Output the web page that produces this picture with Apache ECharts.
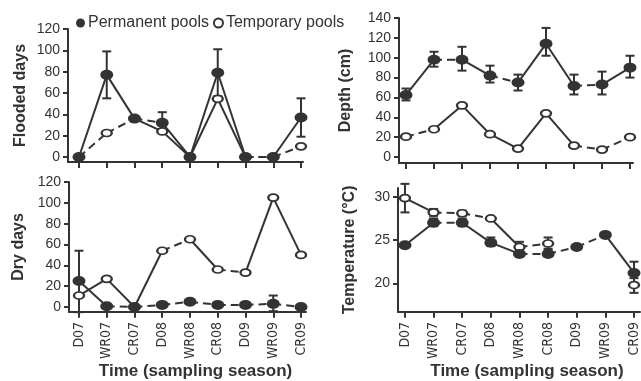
<!DOCTYPE html>
<html>
<head>
<meta charset="utf-8">
<script src="https://cdn.jsdelivr.net/npm/echarts@6/dist/echarts.min.js"></script>
<style>
  html, body { margin: 0; padding: 0; background: #fff; }
  #main { width: 641px; height: 381px; }
</style>
</head>
<body>
<div id="main"></div>
<script>
// sampling seasons (x axis)
var seasons = ["D07", "WR07", "CR07", "D08", "WR08", "CR08", "D09", "WR09", "CR09"];

// flooded days
var floodPerm = [0, 77, 36, 32, 0, 79, 0, 0, 37];
var floodPermLo = [null, 55, null, 23, null, 57, null, null, 19];
var floodPermHi = [null, 99, null, 42, null, 101, null, null, 55];
var floodTemp = [0, 22.5, 36, 24, 0, 54.5, 0, 0, 10];
var floodPermSolid = [1, 1, 0, 1, 1, 1, 0, 1];
var floodTempSolid = [0, 0, 1, 1, 1, 1, 0, 0];
var floodTicks = [0, 20, 40, 60, 80, 100, 120];

// depth (cm)
var depthPerm = [62.5, 98, 98, 82, 75, 114, 71.5, 73, 90];
var depthPermLo = [57, 91, 87, 75, 67, 102, 63, 63, 80];
var depthPermHi = [69, 106, 111, 92, 83, 130, 83, 86, 102];
var depthTemp = [20.5, 28, 52, 23, 8.5, 44, 11.5, 7.5, 20];
var depthPermSolid = [1, 0, 1, 0, 1, 1, 0, 1];
var depthTempSolid = [0, 1, 1, 1, 1, 1, 0, 0];
var depthTicks = [0, 20, 40, 60, 80, 100, 120, 140];

// dry days
var dryPerm = [25, 0.7, 0, 2, 5, 2, 2, 3, 0];
var dryPermLo = [-5, null, null, null, null, null, null, -4, null];
var dryPermHi = [54, null, null, null, null, null, null, 11, null];
var dryTemp = [11, 27, 0, 54, 65, 36, 33, 105, 50];
var dryPermSolid = [1, 0, 0, 0, 0, 0, 0, 0];
var dryTempSolid = [1, 1, 1, 0, 1, 0, 1, 1];
var dryTicks = [0, 20, 40, 60, 80, 100, 120];

// temperature (°C)
var tempPerm = [24.4, 27.0, 27.0, 24.7, 23.4, 23.4, 24.2, 25.6, 21.2];
var tempPermLo = [null, 26.6, 26.6, 24.3, 23.1, 23.1, null, null, 20.0];
var tempPermHi = [null, 27.5, 27.5, 25.3, 23.8, 23.8, null, null, 22.5];
var tempTemp = [29.85, 28.2, 28.1, 27.5, 24.2, 24.6, null, null, 19.8];
var tempTempLo = [28.2, 27.8, 27.8, null, 23.8, 24.0, null, null, 18.9];
var tempTempHi = [31.5, 28.6, 28.4, null, 24.8, 25.3, null, null, 20.6];
var tempPermSolid = [1, 0, 1, 1, 0, 0, 0, 1];
var tempTempSolid = [1, 0, 0, 1, 0, 0, 0, 0];
var tempTicks = [20, 25, 30];

var INK = "#333";
var FONT = "Liberation Sans, Arial, sans-serif";
var NARROW = "Liberation Sans Narrow, DejaVu Sans Condensed, Arial Narrow, sans-serif";
var seasonIdx = seasons.map(function (s, i) { return i; });

var myChart = echarts.init(document.getElementById("main"));

// grid boxes in px
var grids = [
  { left: 68, top: 29, width: 235, height: 133 },
  { left: 399, top: 18, width: 234, height: 145 },
  { left: 69, top: 182, width: 237, height: 132 },
  { left: 398, top: 188, width: 243, height: 126 }
];
var xRanges = [[-0.396, 8.072], [-0.25, 8.107], [-0.36, 8.18], [-0.243, 8.209]];
var yRanges = [[-4.7, 120], [-6, 140], [-4.7, 120], [16.7, 31.02]];
var yTicks = [floodTicks, depthTicks, dryTicks, tempTicks];
var yNames = ["Flooded days", "Depth (cm)", "Dry days", "Temperature (°C)"];
var yNameGaps = [39, 45, 42, 40];

var xAxes = [], yAxes = [];
for (var g = 0; g < 4; g++) {
  var bottom = g >= 2;
  xAxes.push({
    gridIndex: g,
    type: "value",
    min: xRanges[g][0],
    max: xRanges[g][1],
    splitLine: { show: false },
    axisLine: { show: true, onZero: false, lineStyle: { color: INK, width: 2 } },
    axisTick: { show: true, customValues: seasonIdx, length: 6, lineStyle: { color: INK, width: 2 } },
    axisLabel: {
      show: bottom,
      customValues: seasonIdx,
      formatter: function (v) { return seasons[Math.round(v)]; },
      rotate: 90,
      margin: 10,
      fontSize: 14,
      fontFamily: NARROW,
      color: INK
    },
    name: bottom ? "Time (sampling season)" : "",
    nameLocation: "middle",
    nameGap: 48,
    nameTextStyle: { fontSize: 17, fontWeight: "bold", fontFamily: FONT, color: INK, padding: [0, 0, 0, 16] }
  });
  yAxes.push({
    gridIndex: g,
    type: "value",
    min: yRanges[g][0],
    max: yRanges[g][1],
    splitLine: { show: false },
    axisLine: { show: true, onZero: false, lineStyle: { color: INK, width: 2 } },
    axisTick: { show: true, customValues: yTicks[g], length: 5, lineStyle: { color: INK, width: 2 } },
    axisLabel: { customValues: yTicks[g], margin: 8, fontSize: 14, fontFamily: FONT, color: INK },
    name: yNames[g],
    nameLocation: "middle",
    nameGap: yNameGaps[g],
    nameTextStyle: { fontSize: 16, fontWeight: "bold", fontFamily: FONT, color: INK }
  });
}

var series = [];

function addSegments(g, vals, solid) {
  for (var i = 0; i < vals.length - 1; i++) {
    if (vals[i] == null || vals[i + 1] == null) continue;
    series.push({
      type: "line",
      xAxisIndex: g,
      yAxisIndex: g,
      data: [[i, vals[i]], [i + 1, vals[i + 1]]],
      symbol: "none",
      silent: true,
      lineStyle: { color: INK, width: 2, type: solid[i] ? "solid" : [8, 5] },
      z: 2
    });
  }
}

function addErrors(g, lo, hi) {
  var data = [];
  for (var i = 0; i < lo.length; i++) {
    if (lo[i] != null && hi[i] != null) data.push([i, lo[i], hi[i]]);
  }
  series.push({
    type: "custom",
    xAxisIndex: g,
    yAxisIndex: g,
    silent: true,
    z: 3,
    encode: { x: 0, y: [1, 2] },
    data: data,
    renderItem: function (params, api) {
      var a = api.coord([api.value(0), api.value(1)]);
      var b = api.coord([api.value(0), api.value(2)]);
      var st = { stroke: INK, lineWidth: 2 };
      var w = 4.5;
      return {
        type: "group",
        children: [
          { type: "line", shape: { x1: a[0], y1: a[1], x2: b[0], y2: b[1] }, style: st },
          { type: "line", shape: { x1: a[0] - w, y1: a[1], x2: a[0] + w, y2: a[1] }, style: st },
          { type: "line", shape: { x1: b[0] - w, y1: b[1], x2: b[0] + w, y2: b[1] }, style: st }
        ]
      };
    }
  });
}

function addMarks(g, vals, perm) {
  var data = [];
  for (var i = 0; i < vals.length; i++) {
    if (vals[i] != null) data.push([i, vals[i]]);
  }
  series.push({
    type: "scatter",
    name: perm ? "Permanent pools" : "Temporary pools",
    xAxisIndex: g,
    yAxisIndex: g,
    data: data,
    symbol: "circle",
    symbolSize: perm ? [13, 10] : [10, 7],
    itemStyle: perm
      ? { color: INK, opacity: 1 }
      : { color: "#fff", borderColor: INK, borderWidth: 2, opacity: 1 },
    z: perm ? 5 : 4
  });
}

var panels = [
  [floodPerm, floodPermLo, floodPermHi, floodTemp, null, null, floodPermSolid, floodTempSolid],
  [depthPerm, depthPermLo, depthPermHi, depthTemp, null, null, depthPermSolid, depthTempSolid],
  [dryPerm, dryPermLo, dryPermHi, dryTemp, null, null, dryPermSolid, dryTempSolid],
  [tempPerm, tempPermLo, tempPermHi, tempTemp, tempTempLo, tempTempHi, tempPermSolid, tempTempSolid]
];

panels.forEach(function (p, g) {
  addSegments(g, p[3], p[7]);
  addSegments(g, p[0], p[6]);
  if (p[4]) addErrors(g, p[4], p[5]);
  addErrors(g, p[1], p[2]);
  addMarks(g, p[3], false);
  addMarks(g, p[0], true);
});

var option = {
  animation: false,
  backgroundColor: "#fff",
  textStyle: { fontFamily: FONT },
  legend: {
    left: 76,
    top: 15,
    itemWidth: 9,
    itemHeight: 9,
    itemGap: 4,
    padding: 0,
    icon: "circle",
    textStyle: { fontSize: 16, color: INK, fontFamily: FONT, padding: [0, 0, 0, -2] },
    data: [
      { name: "Permanent pools", itemStyle: { color: INK, opacity: 1 } },
      { name: "Temporary pools", itemStyle: { color: "#fff", borderColor: INK, borderWidth: 2, opacity: 1 } }
    ]
  },
  grid: grids,
  xAxis: xAxes,
  yAxis: yAxes,
  series: series
};

myChart.setOption(option);
</script>
</body>
</html>
